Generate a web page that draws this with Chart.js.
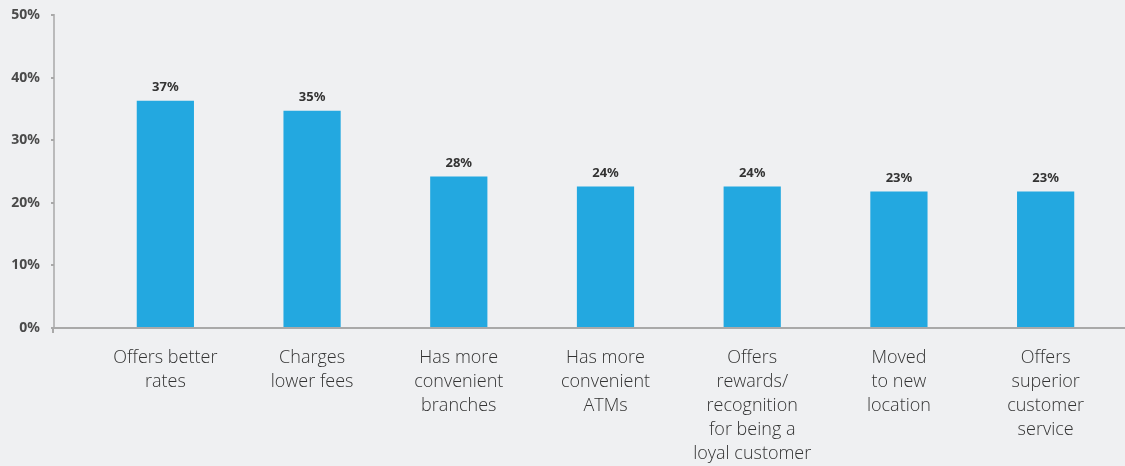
<!DOCTYPE html>
<html>
<head>
<meta charset="utf-8">
<script src="https://cdn.jsdelivr.net/npm/chart.js@4"></script>
<style>
    html, body { margin: 0; padding: 0; background: #eff0f2; }
    #wrap { width: 1125px; height: 466px; }
</style>
</head>
<body>
<div id="wrap"><canvas id="grafico"></canvas></div>
<script>
const categorias = [
    ['Offers better', 'rates'],
    ['Charges', 'lower fees'],
    ['Has more', 'convenient', 'branches'],
    ['Has more', 'convenient', 'ATMs'],
    ['Offers', 'rewards/', 'recognition', 'for being a', 'loyal customer'],
    ['Moved', 'to new', 'location'],
    ['Offers', 'superior', 'customer', 'service']
];
// bar heights as drawn in the picture
const valores = [36.3, 34.7, 24.2, 22.6, 22.6, 21.8, 21.8];
// labels printed above the bars
const rotulos = ['37%', '35%', '28%', '24%', '24%', '23%', '23%'];
const ticksY = [0, 10, 20, 30, 40, 50];

const corEixo = '#a9a9a9';
const eixoX = 54;

// axis lines drawn left of the plot area, like the original
const eixos = {
    id: 'eixos',
    afterDraw(chart) {
        const ctx = chart.ctx;
        const y = chart.scales.y;
        const topo = y.getPixelForValue(50);
        const base = y.getPixelForValue(0);
        ctx.save();
        ctx.strokeStyle = corEixo;
        ctx.fillStyle = corEixo;
        ctx.lineWidth = 1.5;
        ctx.beginPath();
        ctx.moveTo(eixoX, topo - 1);
        ctx.lineTo(eixoX, base);
        ctx.stroke();
        ctx.lineWidth = 2;
        ctx.beginPath();
        ctx.moveTo(eixoX, base);
        ctx.lineTo(chart.width, base);
        ctx.stroke();
        ticksY.forEach(v => {
            const py = y.getPixelForValue(v);
            ctx.fillRect(eixoX - 3, Math.round(py) - 1, 3, 2);
        });
        ctx.fillRect(eixoX - 2, base, 2, 5);
        ctx.restore();
    }
};

const rotulosBarras = {
    id: 'rotulosBarras',
    afterDatasetsDraw(chart) {
        const ctx = chart.ctx;
        const meta = chart.getDatasetMeta(0);
        ctx.save();
        ctx.font = 'bold 13px "Noto Sans"';
        ctx.fillStyle = '#333333';
        ctx.textAlign = 'center';
        ctx.textBaseline = 'bottom';
        meta.data.forEach((bar, i) => {
            ctx.fillText(rotulos[i], bar.x, bar.y - 7);
        });
        ctx.restore();
    }
};

new Chart(document.getElementById('grafico'), {
    type: 'bar',
    data: {
        labels: categorias,
        datasets: [{
            data: valores,
            backgroundColor: '#23a8e0',
            barPercentage: 0.39,
            categoryPercentage: 1
        }]
    },
    options: {
        responsive: true,
        maintainAspectRatio: false,
        animation: false,
        layout: { padding: { top: 15, right: 6, left: 0, bottom: 0 } },
        plugins: {
            legend: { display: false },
            tooltip: { enabled: false }
        },
        scales: {
            x: {
                grid: { display: false, drawTicks: false },
                border: { display: false },
                afterFit: (scale) => { scale.height = 138; },
                ticks: {
                    maxRotation: 0,
                    autoSkip: false,
                    padding: 18,
                    color: '#333333',
                    font: { family: '"Open Sans"', size: 18, weight: 300, lineHeight: 1.33 }
                }
            },
            y: {
                min: 0,
                max: 50,
                afterFit: (scale) => {
                    scale.width = 92;
                    // tick padding is only meant to push labels left
                    scale.paddingTop = 0;
                    scale.paddingBottom = 0;
                },
                grid: { display: false, drawTicks: false },
                border: { display: false },
                ticks: {
                    stepSize: 10,
                    padding: 52,
                    color: '#4a4a4a',
                    font: { family: '"Noto Sans"', size: 14, weight: 'bold' },
                    callback: v => v + '%'
                }
            }
        }
    },
    plugins: [eixos, rotulosBarras]
});
</script>
</body>
</html>
